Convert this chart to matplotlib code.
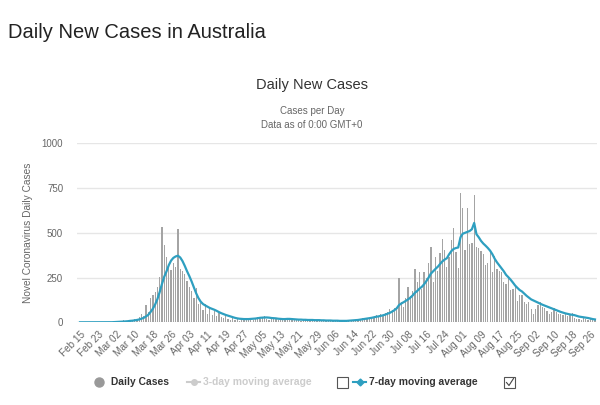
import matplotlib
matplotlib.use('Agg')
import matplotlib.pyplot as plt
from matplotlib.lines import Line2D
from matplotlib.patches import Rectangle
import numpy as np
import pandas as pd

plt.rcParams['font.family'] = ['Liberation Sans', 'DejaVu Sans']

# ---------------- data ----------------
dates = pd.date_range('2020-02-15', '2020-09-28', freq='D')

cases = [
    0, 0, 0, 0, 0, 0, 0, 2, 0, 0,
    0, 0, 0, 0, 1, 4, 3, 4, 8, 11,
    6, 9, 12, 13, 20, 21, 28, 45, 35, 97,
    60, 135, 155, 170, 200, 255, 531, 430, 365, 320,
    290, 330, 310, 520, 295, 285, 270, 230, 200, 175,
    135, 190, 100, 110, 70, 100, 45, 80, 40, 65,
    35, 55, 30, 25, 35, 20, 15, 25, 12, 18,
    10, 15, 20, 17, 22, 25, 15, 20, 30, 18,
    25, 35, 20, 15, 22, 18, 25, 15, 20, 12,
    18, 25, 15, 20, 12, 15, 18, 10, 14, 12,
    16, 10, 14, 12, 10, 14, 9, 12, 8, 10,
    12, 8, 7, 10, 6, 9, 8, 7, 12, 10,
    14, 12, 18, 16, 22, 20, 25, 22, 30, 28,
    38, 35, 45, 40, 50, 60, 75, 70, 80, 85,
    250, 115, 85, 135, 200, 145, 175, 296, 225, 280,
    185, 280, 250, 330, 423, 225, 365, 285, 385, 465,
    405, 310, 365, 460, 528, 390, 305, 721, 640, 405,
    640, 435, 445, 712, 420, 415, 400, 380, 320, 330,
    395, 280, 370, 300, 285, 280, 225, 215, 245, 180,
    185, 210, 120, 150, 150, 115, 100, 115, 75, 45,
    75, 95, 115, 85, 80, 65, 45, 60, 80, 55,
    45, 45, 40, 45, 35, 45, 50, 25, 18, 18,
    15, 30, 20, 15, 18, 15, 20,
]

ma7 = [
    0, 0, 0, 0, 0, 0, 0, 0.3, 0.3, 0.3,
    0.3, 0.3, 0.3, 0.3, 0.4, 1, 1, 2, 3, 4,
    5, 6, 8, 9, 11, 13, 16, 20, 25, 33,
    42, 58, 76, 100, 130, 170, 215, 255, 285, 320,
    345, 360, 368, 372, 362, 342, 315, 285, 258, 228,
    195, 162, 135, 115, 102, 94, 87, 80, 75, 70,
    64, 57, 51, 46, 41, 37, 33, 29, 25, 22,
    20, 19, 18, 18, 18, 19, 20, 21, 23, 25,
    26, 27, 27, 26, 24, 23, 22, 20, 19, 18,
    18, 19, 19, 18, 17, 16, 15, 15, 14, 14,
    13, 13, 13, 12, 12, 12, 11, 11, 10, 10,
    10, 9, 9, 9, 8, 8, 8, 8, 9, 10,
    11, 12, 13, 15, 17, 19, 21, 23, 25, 28,
    31, 33, 36, 39, 43, 48, 53, 60, 68, 78,
    96, 105, 112, 120, 128, 138, 150, 165, 175, 188,
    198, 212, 230, 250, 272, 285, 298, 310, 325, 340,
    350, 358, 380, 398, 410, 415, 418, 475, 495, 500,
    505, 510, 520, 555, 492, 475, 455, 440, 428, 415,
    400, 380, 355, 335, 318, 300, 285, 265, 252, 238,
    222, 205, 192, 180, 172, 160, 148, 138, 128, 122,
    116, 110, 104, 98, 93, 88, 83, 78, 73, 68,
    63, 58, 54, 50, 47, 44, 42, 40, 36, 32,
    30, 28, 26, 24, 21, 18, 16,
]

tick_labels = ['Feb 15', 'Feb 23', 'Mar 02', 'Mar 10', 'Mar 18', 'Mar 26',
               'Apr 03', 'Apr 11', 'Apr 19', 'Apr 27', 'May 05', 'May 13',
               'May 21', 'May 29', 'Jun 06', 'Jun 14', 'Jun 22', 'Jun 30',
               'Jul 08', 'Jul 16', 'Jul 24', 'Aug 01', 'Aug 09', 'Aug 17',
               'Aug 25', 'Sep 02', 'Sep 10', 'Sep 18', 'Sep 26']
y_ticks = [0, 250, 500, 750, 1000]

# ---------------- figure ----------------
W, H = 600, 405
fig = plt.figure(figsize=(W / 100, H / 100), dpi=100)


def fx(px):
    return px / W


def fy(py):
    return 1 - py / H


BAR = '#a4a4a4'
TEAL = '#2e9fc0'

ax = fig.add_axes([fx(77), fy(322.3), (597 - 77) / W, (322.3 - 143.3) / H])
x = np.arange(len(dates))
ax.bar(x, cases, width=0.55, color=BAR, linewidth=0, zorder=2)
ax.plot(x, ma7, color=TEAL, lw=1.6, zorder=3, solid_joinstyle='round')

ax.set_xlim(-1.3, 226.9)
ax.set_ylim(0, 1000)
ax.set_yticks(y_ticks)
ax.set_yticklabels([str(v) for v in y_ticks])
ax.grid(axis='y', color='#e6e6e6', lw=1, zorder=0)
ax.set_axisbelow(True)
for s in ax.spines.values():
    s.set_visible(False)
ax.tick_params(axis='y', length=0, pad=10, labelsize=7, labelcolor='#666666')
ax.set_xticks(x[::8])
ax.set_xticklabels(tick_labels, rotation=45, ha='right', rotation_mode='anchor')
ax.tick_params(axis='x', length=0, pad=5, labelsize=7.2, labelcolor='#666666')

fig.text(fx(28), fy(233), 'Novel Coronavirus Daily Cases', rotation=90,
         ha='center', va='center', fontsize=7.3, color='#666666')

# titles
fig.text(fx(8), fy(33), 'Daily New Cases in Australia', fontsize=14.5,
         color='#222222', ha='left', va='center')
fig.text(fx(312), fy(85), 'Daily New Cases', fontsize=10.5, color='#333333',
         ha='center', va='center')
fig.text(fx(312), fy(111), 'Cases per Day', fontsize=7, color='#666666',
         ha='center', va='center')
fig.text(fx(312), fy(125), 'Data as of 0:00 GMT+0', fontsize=7, color='#666666',
         ha='center', va='center')

# legend (manual)
LY = 382
fig.add_artist(Line2D([fx(98.5)], [fy(LY)], marker='o', markersize=6.5,
                      color='#999999', transform=fig.transFigure))
fig.text(fx(111), fy(LY), 'Daily Cases', fontsize=7.4, fontweight='bold',
         color='#333333', ha='left', va='center')
fig.add_artist(Line2D([fx(187), fx(200)], [fy(LY), fy(LY)], color='#cccccc',
                      lw=1.5, transform=fig.transFigure))
fig.add_artist(Line2D([fx(193.5)], [fy(LY)], marker='o', markersize=4,
                      color='#cccccc', transform=fig.transFigure))
fig.text(fx(203), fy(LY), '3-day moving average', fontsize=7.4,
         fontweight='bold', color='#cccccc', ha='left', va='center')
fig.add_artist(Rectangle((fx(337), fy(388)), 11 / W, 11 / H, facecolor='white',
                         edgecolor='#555555', lw=0.8, transform=fig.transFigure))
fig.add_artist(Line2D([fx(353), fx(366)], [fy(LY), fy(LY)], color=TEAL,
                      lw=1.5, transform=fig.transFigure))
fig.add_artist(Line2D([fx(359.5)], [fy(LY)], marker='D', markersize=3.5,
                      color=TEAL, transform=fig.transFigure))
fig.text(fx(369), fy(LY), '7-day moving average', fontsize=7.4,
         fontweight='bold', color='#333333', ha='left', va='center')
fig.add_artist(Rectangle((fx(504), fy(388)), 11 / W, 11 / H, facecolor='white',
                         edgecolor='#555555', lw=0.8, transform=fig.transFigure))
fig.add_artist(Line2D([fx(506.5), fx(509), fx(513.5)],
                      [fy(382.5), fy(385.5), fy(378.5)], color='#444444',
                      lw=0.8, transform=fig.transFigure))

fig.savefig('out.png', dpi=100, facecolor='white')
